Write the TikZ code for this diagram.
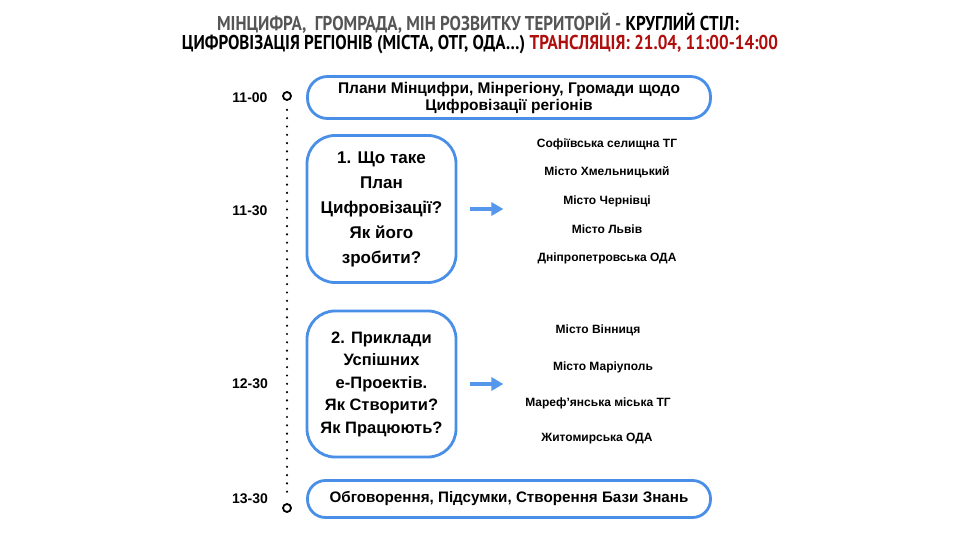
\documentclass[tikz,border=0pt]{standalone}
\usepackage{fontspec}
\setmainfont{Liberation Sans}
\newfontfamily\titlefont[FakeStretch=0.85]{PT Sans}
\usetikzlibrary{arrows.meta}
\definecolor{boxblue}{HTML}{4A8FE7}
\definecolor{arrblue}{HTML}{5597EC}
\definecolor{titlegray}{HTML}{555555}
\definecolor{titlered}{HTML}{B00D0D}
\tikzset{
  x=1pt, y=-1pt,
  roundbox/.style={draw=boxblue, line width=2.8pt, align=center, inner sep=0pt, font=\bfseries},
  timelbl/.style={font=\fontsize{14}{16}\selectfont\bfseries, inner sep=0pt},
  listitem/.style={font=\fontsize{12}{14}\selectfont\bfseries, inner sep=0pt},
  ring/.style={circle, draw=black, line width=1.8pt, minimum size=8pt, inner sep=0pt},
  bigarrow/.style={draw=arrblue, line width=3.5pt, -{Triangle[length=12pt,width=13pt]}},
  dotline/.style={line width=2.4pt, line cap=round, dash pattern=on 0pt off 8.3pt},
}
\begin{document}
\begin{tikzpicture}
\useasboundingbox (0,0) rectangle (959,540);
% title
\node[inner sep=0pt, font=\titlefont\bfseries\fontsize{20}{22}\selectfont] (t1) at (478,23)
  {\textcolor{titlegray}{МІНЦИФРА,\ \ ГРОМРАДА, МІН РОЗВИТКУ ТЕРИТОРІЙ -} КРУГЛИЙ СТІЛ:};
\node[inner sep=0pt, font=\titlefont\bfseries\fontsize{20}{22}\selectfont] (t2) at (480,45)
  {ЦИФРОВІЗАЦІЯ РЕГІОНІВ (МІСТА, ОТГ, ОДА…) \textcolor{titlered}{ТРАНСЛЯЦІЯ: 21.04, 11:00-14:00}};
% timeline
\node[ring] (c1) at (287,96) {};
\node[ring] (c2) at (287,508) {};
\draw[dotline] ([yshift=-9pt]c1.south) -- ([yshift=8pt]c2.north);
% time labels
\node[timelbl] (l1) at (250,98) {11-00};
\node[timelbl] (l2) at (250,211) {11-30};
\node[timelbl] (l3) at (250,384) {12-30};
\node[timelbl] (l4) at (250,499) {13-30};
% boxes
\node[roundbox, rounded corners=20pt, minimum width=403pt, minimum height=42pt,
  font=\bfseries\fontsize{15.5}{17}\selectfont] (b1) at (509,97.5)
  {Плани Мінцифри, Мінрегіону, Громади щодо\\Цифровізації регіонів};
\node[roundbox, rounded corners=28pt, minimum width=149pt, minimum height=147pt,
  font=\bfseries\fontsize{17}{25}\selectfont] (b2) at (381.5,209)
  {1. Що таке\\План\\Цифровізації?\\Як його\\зробити?};
\node[roundbox, rounded corners=28pt, minimum width=149pt, minimum height=146pt,
  font=\bfseries\fontsize{16.5}{22.5}\selectfont] (b3) at (381.5,384)
  {2. Приклади\\Успішних\\е-Проектів.\\Як Створити?\\Як Працюють?};
\node[roundbox, rounded corners=18pt, minimum width=403pt, minimum height=37pt,
  font=\bfseries\fontsize{15.2}{17}\selectfont] (b4) at (509,499)
  {Обговорення, Підсумки, Створення Бази Знань};
% arrows
\draw[bigarrow] ([xshift=13pt]b2.east) -- ([xshift=46pt]b2.east);
\draw[bigarrow] ([xshift=13pt]b3.east) -- ([xshift=46pt]b3.east);
% lists
\node[listitem] (a1) at (607,144) {Софіївська селищна ТГ};
\node[listitem] (a2) at (607,172) {Місто Хмельницький};
\node[listitem] (a3) at (607,201) {Місто Чернівці};
\node[listitem] (a4) at (607,229) {Місто Львів};
\node[listitem] (a5) at (607,258) {Дніпропетровська ОДА};
\node[listitem] (m1) at (598,330) {Місто Вінниця};
\node[listitem] (m2) at (603,367) {Місто Маріуполь};
\node[listitem] (m3) at (598,403) {Мареф’янська міська ТГ};
\node[listitem] (m4) at (597,439) {Житомирська ОДА};
\end{tikzpicture}
\end{document}
